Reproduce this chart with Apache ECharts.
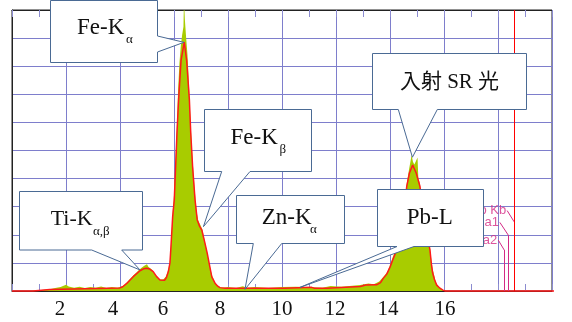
<!DOCTYPE html>
<html><head><meta charset="utf-8">
<script src="https://cdn.jsdelivr.net/npm/echarts@6/dist/echarts.min.js"></script>
<style>html,body{margin:0;padding:0;background:#fff}#c{width:572px;height:322px}</style>
</head><body><div id="c"></div>
<script>
// ---- data (keV vs. intensity) ----
const fitEnergy = [0,0.78,0.8,1.4,1.42,4.0,4.1,4.25,4.49,4.74,4.87,4.99,5.1,5.23,5.35,5.48,5.55,5.65,5.72,5.79,5.85,5.88,5.95,6.01,6.06,6.11,6.17,6.26,6.38,6.47,6.57,6.62,6.69,6.78,6.86,6.95,7.03,7.12,7.23,7.33,7.40,7.52,7.62,7.70,7.9,10.1,10.15,11.1,11.2,11.65,11.7,12.9,13.1,13.5,13.65,13.75,13.88,14.0,14.1,14.25,14.4,14.5,14.62,14.72,14.84,14.97,15.11,15.2,15.3,15.4,15.48,15.54,15.58,15.65,15.73,15.85,15.96,16.05,20.75];
const fitCounts = [0,0,0.05,0.05,0.1,0.11,0.15,0.27,0.51,0.72,0.79,0.81,0.78,0.69,0.52,0.39,0.36,0.38,0.48,0.69,1.0,1.46,2.64,3.24,4.41,5.62,6.8,8.2,8.86,8.2,6.8,5.62,4.41,3.24,2.53,2.3,2.17,1.81,1.35,0.85,0.5,0.28,0.17,0.12,0.1,0.1,0.13,0.13,0.1,0.1,0.15,0.16,0.21,0.22,0.3,0.45,0.6,0.85,1.1,1.46,2.1,2.7,3.72,4.2,4.48,4.2,3.72,3.0,2.4,1.85,1.46,0.9,0.64,0.4,0.21,0.1,0.03,0,0];
const rawEnergy = [0,0.7,0.75,1.4,1.45,1.6,1.8,2.0,2.1,2.3,2.5,2.7,2.9,3.1,3.3,3.5,3.7,3.9,4.0,4.1,4.2,4.3,4.4,4.5,4.6,4.7,4.8,4.9,4.95,5.0,5.05,5.1,5.2,5.3,5.4,5.5,5.6,5.7,5.8,5.85,5.9,5.95,6.0,6.05,6.1,6.15,6.2,6.25,6.3,6.35,6.37,6.4,6.45,6.5,6.55,6.6,6.65,6.7,6.75,6.8,6.85,6.9,6.95,7.0,7.05,7.1,7.2,7.3,7.4,7.5,7.6,7.7,7.8,8.0,8.3,8.55,8.7,9.0,9.5,10.0,10.5,11.0,11.5,11.8,12.2,12.6,12.9,13.2,13.4,13.6,13.75,13.9,14.0,14.1,14.25,14.4,14.5,14.6,14.7,14.8,14.85,14.9,14.95,15.02,15.05,15.1,15.2,15.3,15.4,15.48,15.55,15.6,15.7,15.8,15.9,16.0,16.1,20.0];
const rawCounts = [0,0,0.04,0.06,0.13,0.11,0.14,0.22,0.16,0.12,0.15,0.11,0.14,0.12,0.16,0.11,0.14,0.12,0.14,0.18,0.25,0.36,0.46,0.56,0.65,0.75,0.83,0.9,0.85,0.95,0.86,0.87,0.75,0.59,0.45,0.41,0.41,0.52,0.8,1.1,1.75,2.8,3.4,4.5,5.7,7.1,8.1,8.7,9.1,9.4,10.4,9.7,9.0,8.4,7.4,6.3,5.3,4.5,3.8,3.2,2.75,2.5,2.4,2.35,2.2,1.95,1.5,1.0,0.58,0.33,0.2,0.14,0.12,0.14,0.11,0.17,0.12,0.14,0.11,0.14,0.15,0.14,0.12,0.18,0.15,0.19,0.21,0.27,0.24,0.34,0.5,0.68,0.92,1.2,1.56,2.2,2.85,3.7,4.3,4.84,4.6,4.5,4.6,4.75,4.0,3.85,3.1,2.5,1.9,1.52,0.95,0.7,0.3,0.14,0.06,0.03,0,0];
const tickLabels = [2,4,6,8,10,12,14,16];
// element marker lines
const markerNames = ['Mo Kb','Mo Ka1','Mo Ka2'];
const markerEnergy = [18.6,18.38,18.23];
const markerTop = [2.46,1.99,1.46];
const markerLeadE = [18.34,18.07,18.01];
const markerLeadV = [2.86,2.44,1.81];
const fullMarkerEnergy = 18.6;
// callout texts and the spectrum points they point at
const calloutNames = ['FeKa','Ti','FeKb','Zn','PbL','SR'];
const calloutMain = ['Fe-K','Ti-K','Fe-K','Zn-K','Pb-L','入射 SR 光'];
const calloutSub = ['α','α,β','β','α','',''];
const calloutTipE = [6.37,4.74,7.09,8.63,10.67,14.83];
const calloutTipV = [8.85,0.75,2.29,0.06,0.13,4.76];

// ---- layout / style (pixels) ----
const boxes = {
  FeKa:{x:50.5,y:0.5,w:107,h:62,side:'right',a:36,b:52, tx:77,ty:28.3,sx:126,sy:40,fs:23},
  Ti:{x:19.5,y:191.5,w:123,h:58.5,side:'bottom',a:91.7,b:121.7, tx:50.7,ty:218.8,sx:93,sy:231.5,fs:22},
  FeKb:{x:204.5,y:109.5,w:107,h:62,side:'bottom',a:221.7,b:250, tx:230.5,ty:137.8,sx:279.5,sy:149.5,fs:23},
  Zn:{x:236.5,y:195.5,w:108,h:48,side:'bottom',a:253.3,b:281.7, tx:261.7,ty:218.3,sx:310,sy:229.8,fs:23},
  PbL:{x:377.5,y:189.5,w:106,h:57,side:'bottom',a:397,b:414, tx:406.7,ty:218,fs:23},
  SR:{x:372.5,y:53.5,w:154,h:56,side:'bottom',a:398.3,b:437.3, tx:449.5,ty:82,fs:21,center:true}
};
const labelShift = {2:6,4:7,6:11,8:8,10:0,12:1,14:2,16:-1};
const GRID = '#7e7ecc', GREEN = '#a8cc00', RED = '#ff1a1a', PINK = '#d42a85', EDGE = '#4a6a94';
const SERIF = '"Liberation Serif","Times New Roman",serif';

const zip = (xs, ys) => xs.map((x, i) => [x, ys[i]]);
const rich = {};
tickLabels.forEach(v => {
  const s = labelShift[v];
  rich['t' + v] = {fontFamily: SERIF, fontSize: 21, color: '#111',
    padding: s >= 0 ? [0, 2 * s, 0, 0] : [0, 0, 0, -2 * s]};
});

const chart = echarts.init(document.getElementById('c'), null, {renderer: 'canvas'});
const tickCommon = {
  type: 'value', min: 0, max: 20, interval: 2,
  axisLine: {show: true, lineStyle: {color: '#222', width: 1}},
  axisTick: {show: true, inside: true, length: 7, lineStyle: {color: '#8c8cd0'}},
  minorTick: {show: true, splitNumber: 2, length: 7, lineStyle: {color: '#8c8cd0'}}
};
const markLines = [];
markerEnergy.forEach((e, i) => {
  markLines.push([{coord: [markerLeadE[i], markerLeadV[i]]}, {coord: [e, markerTop[i]]}]);
  markLines.push([{coord: [e, markerTop[i]]}, {coord: [e, 0]}]);
});

chart.setOption({
  animation: false,
  backgroundColor: '#fff',
  grid: {left: 12, right: 20, top: 10, bottom: 31, show: true, borderColor: '#222', borderWidth: 1},
  xAxis: [
    Object.assign({}, tickCommon, {
      position: 'bottom',
      splitLine: {show: true, lineStyle: {color: GRID, width: 1}},
      axisLabel: {show: true, margin: 8, fontFamily: SERIF, fontSize: 21, color: '#111',
        formatter: v => tickLabels.includes(v) ? `{t${v}|${v}}` : '', rich: rich}
    }),
    Object.assign({}, tickCommon, {
      position: 'top', splitLine: {show: false}, axisLabel: {show: false}
    })
  ],
  yAxis: {
    type: 'value', min: 0, max: 10, interval: 1,
    axisLine: {show: true, lineStyle: {color: '#222'}},
    axisTick: {show: false}, axisLabel: {show: false},
    splitLine: {show: true, lineStyle: {color: GRID, width: 1}}
  },
  series: [
    {
      type: 'line', name: 'counts', data: zip(rawEnergy, rawCounts),
      symbol: 'none', clip: true, z: 2,
      lineStyle: {width: 0, color: GREEN},
      areaStyle: {color: GREEN, opacity: 1}
    },
    {
      type: 'line', name: 'fit', data: zip(fitEnergy, fitCounts),
      symbol: 'none', clip: false, z: 4,
      lineStyle: {width: 1.5, color: RED},
      markLine: {
        silent: true, symbol: ['none', 'none'], animation: false,
        label: {show: false},
        lineStyle: {color: PINK, width: 1, type: 'solid'},
        data: markLines.concat([{xAxis: fullMarkerEnergy, lineStyle: {color: '#ff0000', width: 1, type: 'solid'}}])
      }
    },
    {
      type: 'scatter', name: 'markers', symbolSize: 0, z: 4,
      data: markerNames.map((n, i) => ({value: [markerLeadE[i], markerLeadV[i]], name: n})),
      label: {show: true, position: 'left', distance: 1, formatter: p => p.name,
        color: PINK, fontFamily: '"Liberation Sans",Arial,sans-serif', fontSize: 13}
    }
  ]
});

// callouts anchored to data coordinates
const graphics = [];
calloutNames.forEach((k, i) => {
  const b = boxes[k];
  const tip = chart.convertToPixel({seriesIndex: 1}, [calloutTipE[i], calloutTipV[i]]);
  const x0 = b.x, y0 = b.y, x1 = b.x + b.w, y1 = b.y + b.h;
  const pts = b.side === 'right'
    ? [[x0, y0], [x1, y0], [x1, b.a], tip, [x1, b.b], [x1, y1], [x0, y1]]
    : [[x0, y0], [x1, y0], [x1, y1], [b.b, y1], tip, [b.a, y1], [x0, y1]];
  graphics.push({type: 'polygon', z: 100, shape: {points: pts},
    style: {fill: '#fff', stroke: EDGE, lineWidth: 1}});
  const fam = k === 'SR' ? '"Liberation Serif","Noto Sans CJK JP",serif' : SERIF;
  graphics.push({type: 'text', z: 101, x: b.tx, y: b.ty,
    style: {text: calloutMain[i], font: `${b.fs}px ${fam}`, fill: '#111',
      textAlign: b.center ? 'center' : 'left', textVerticalAlign: 'middle',
      align: b.center ? 'center' : 'left', verticalAlign: 'middle'}});
  if (calloutSub[i]) {
    graphics.push({type: 'text', z: 101, x: b.sx, y: b.sy,
      style: {text: calloutSub[i], font: `13px ${SERIF}`, fill: '#111',
        textAlign: 'left', textVerticalAlign: 'middle', align: 'left', verticalAlign: 'middle'}});
  }
});
chart.setOption({graphic: {elements: graphics}});
</script></body></html>
